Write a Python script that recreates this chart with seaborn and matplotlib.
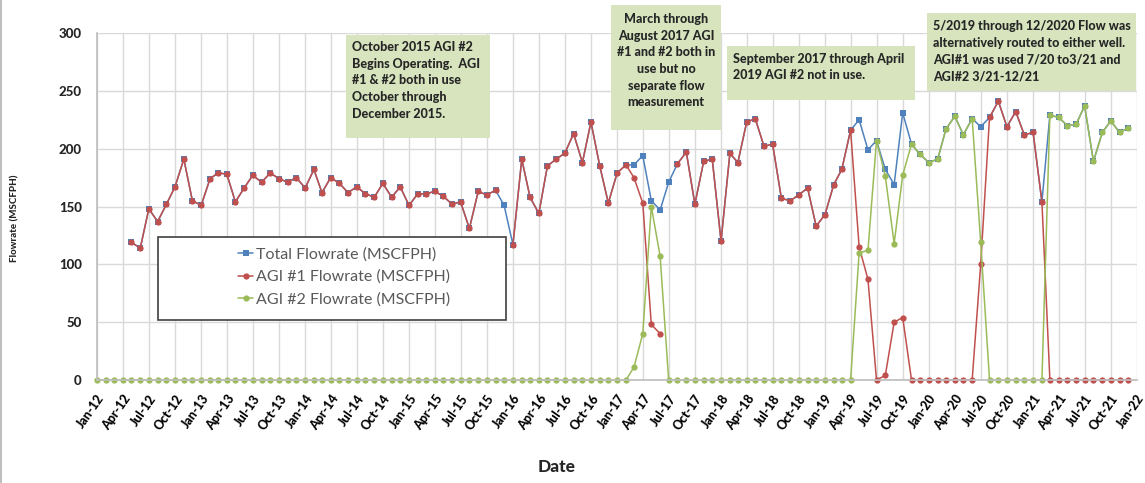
import numpy as np
import pandas as pd
import matplotlib
matplotlib.use("Agg")
import matplotlib.pyplot as plt
from matplotlib.patches import Rectangle
from matplotlib.lines import Line2D
import seaborn as sns

nan = np.nan
months = pd.date_range("2012-01-01", "2021-12-01", freq="MS")

total = [
    nan, nan, nan, nan, 119, 114, 148, 137, 152, 167, 191, 155,
    151, 174, 179, 178, 154, 166, 177, 171, 179, 174, 171, 175,
    166, 182, 162, 175, 170, 162, 167, 161, 158, 170, 158, 167,
    151, 161, 161, 163, 159, 152, 154, 131, 163, 160, 164, 151,
    117, 191, 158, 144, 185, 191, 196, 213, 188, 223, 185, 153,
    179, 186, 186, 194, 155, 147, 171, 187, 197, 152, 189, 191,
    120, 196, 188, 223, 226, 202, 204, 157, 155, 160, 166, 133,
    143, 169, 182, 216, 225, 199, 207, 182, 169, 231, 204, 195,
    188, 191, 217, 228, 212, 226, 219, 227, 241, 219, 232, 212,
    214, 154, 229, 227, 220, 221, 237, 189, 214, 224, 214, 218,
]
agi1 = [
    nan, nan, nan, nan, 119, 114, 148, 137, 152, 167, 191, 155,
    151, 174, 179, 178, 154, 166, 177, 171, 179, 174, 171, 175,
    166, 182, 162, 175, 170, 162, 167, 161, 158, 170, 158, 167,
    151, 161, 161, 163, 159, 152, 154, 131, 163, 160, 164, nan,
    117, 191, 158, 144, 185, 191, 196, 213, 188, 223, 185, 153,
    179, 186, 175, 153, 48, 40, nan, 187, 197, 152, 189, 191,
    120, 196, 188, 223, 226, 202, 204, 157, 155, 160, 166, 133,
    143, 169, 182, 216, 115, 87, 0, 4, 50, 54, 0, 0,
    0, 0, 0, 0, 0, 0, 100, 227, 241, 219, 232, 212,
    214, 154, 0, 0, 0, 0, 0, 0, 0, 0, 0, 0,
]
agi2 = [
    0, 0, 0, 0, 0, 0, 0, 0, 0, 0, 0, 0,
    0, 0, 0, 0, 0, 0, 0, 0, 0, 0, 0, 0,
    0, 0, 0, 0, 0, 0, 0, 0, 0, 0, 0, 0,
    0, 0, 0, 0, 0, 0, 0, 0, 0, 0, 0, 0,
    0, 0, 0, 0, 0, 0, 0, 0, 0, 0, 0, 0,
    0, 0, 11, 40, 150, 107, 0, 0, 0, 0, 0, 0,
    0, 0, 0, 0, 0, 0, 0, 0, 0, 0, 0, 0,
    0, 0, 0, 0, 110, 112, 207, 176, 118, 177, 204, 195,
    188, 191, 217, 228, 212, 226, 119, 0, 0, 0, 0, 0,
    0, 0, 229, 227, 220, 221, 237, 189, 214, 224, 214, 218,
]

names = ["Total Flowrate (MSCFPH)", "AGI #1 Flowrate (MSCFPH)", "AGI #2 Flowrate (MSCFPH)"]
colors = ["#4F81BD", "#C0504D", "#9BBB59"]
marks = ["s", "o", "o"]

# long form, gaps (empty cells) split into separate units
frames = []
for name, vals in zip(names, [total, agi1, agi2]):
    d = pd.DataFrame({"date": months, "value": vals, "series": name})
    d["seg"] = name + d["value"].isna().cumsum().astype(str)
    frames.append(d.dropna())
df = pd.concat(frames, ignore_index=True)

sns.set_theme(style="white")
plt.rcParams["font.family"] = ["Lato", "DejaVu Sans"]

W, H = 1145, 483
fig = plt.figure(figsize=(W / 100, H / 100), dpi=100)
ax = fig.add_axes([97 / W, 1 - 380 / H, 1040 / W, 347 / H])

sns.lineplot(data=df, x="date", y="value", hue="series", style="series",
             units="seg", estimator=None, sort=False,
             hue_order=names, style_order=names,
             palette=dict(zip(names, colors)), markers=dict(zip(names, marks)),
             dashes=False, markersize=4.5, markeredgewidth=0, linewidth=1.1,
             legend=False, ax=ax)
for ln in ax.lines:
    ln.set_clip_on(False)

qticks = pd.date_range("2012-01-01", "2022-01-01", freq="3MS")
ax.set_xlim(qticks[0], qticks[-1])
ax.set_ylim(0, 300)
ax.set_xticks(qticks)
ax.set_xticklabels([d.strftime("%b-%y") for d in qticks], rotation=55,
                   ha="right", rotation_mode="anchor", fontsize=9,
                   fontweight="black", color="#000000")
ax.set_yticks(range(0, 301, 50))
ax.set_yticklabels([str(v) for v in range(0, 301, 50)], fontsize=9.5,
                   fontweight="black")
ax.tick_params(axis="x", length=3, color="#BFBFBF", pad=6)
ax.tick_params(axis="y", length=0, pad=11)
ax.grid(True, color="#D9D9D9", linewidth=1)
ax.set_axisbelow(True)
for s in ["top", "right"]:
    ax.spines[s].set_visible(False)
for s in ["left", "bottom"]:
    ax.spines[s].set_color("#BFBFBF")
ax.set_xlabel("")
ax.set_ylabel("")

fig.text(557 / W, 1 - 467 / H, "Date", ha="center", va="center",
         fontsize=12.5, fontweight="black")
fig.text(15 / W, 1 - 218 / H, "Flowrate (MSCFPH)", ha="center", va="center",
         rotation=90, fontsize=7, fontweight="black")

# legend box
fig.add_artist(Rectangle((158 / W, 1 - 320 / H), 348 / W, 83 / H,
                         transform=fig.transFigure, facecolor="white",
                         edgecolor="#404040", linewidth=1.2, zorder=5))
handles = [Line2D([], [], color=c, marker=m, markersize=4.5, linewidth=1.1,
                  markeredgewidth=0) for c, m in zip(colors, marks)]
leg = fig.legend(handles, names, loc="center left",
                 bbox_to_anchor=(230 / W, 1 - 277 / H), frameon=False,
                 fontsize=11.5, handlelength=0.95, handletextpad=0.15,
                 labelspacing=0.5, borderpad=0, labelcolor="#595959")
leg.set_zorder(6)

# annotation boxes
notes = [
    ((346, 35, 490, 138), 47, "left",
     ["October 2015 AGI #2", "Begins Operating.  AGI", "#1 & #2 both in use",
      "October through", "December 2015."]),
    ((611, 5, 721, 130), 19, "center",
     ["March through", "August 2017 AGI", "#1 and #2 both in", "use but no",
      "separate flow", "measurement"]),
    ((727, 46, 915, 100), 58.5, "left",
     ["September 2017 through April", "2019 AGI #2 not in use."]),
    ((927, 13, 1136, 91), 26, "left",
     ["5/2019 through 12/2020 Flow was", "alternatively routed to either well.",
      "AGI#1 was used 7/20 to3/21 and", "AGI#2 3/21-12/21"]),
]
for (x0, y0, x1, y1), first, ha, lines in notes:
    fig.add_artist(Rectangle((x0 / W, 1 - y1 / H), (x1 - x0) / W, (y1 - y0) / H,
                             transform=fig.transFigure, facecolor="#D7E4BD",
                             edgecolor="none", zorder=5))
    tx = (x0 + x1) / 2 if ha == "center" else x0 + 6
    for i, t in enumerate(lines):
        fig.text(tx / W, 1 - (first + i * 16.7) / H, t, ha=ha, va="center",
                 fontsize=9, fontweight="black", zorder=6)

fig.add_artist(Line2D([0.5 / W, 0.5 / W], [0, 1], transform=fig.transFigure,
                      color="#BFBFBF", linewidth=1.5))

fig.savefig("out.png", dpi=100)
